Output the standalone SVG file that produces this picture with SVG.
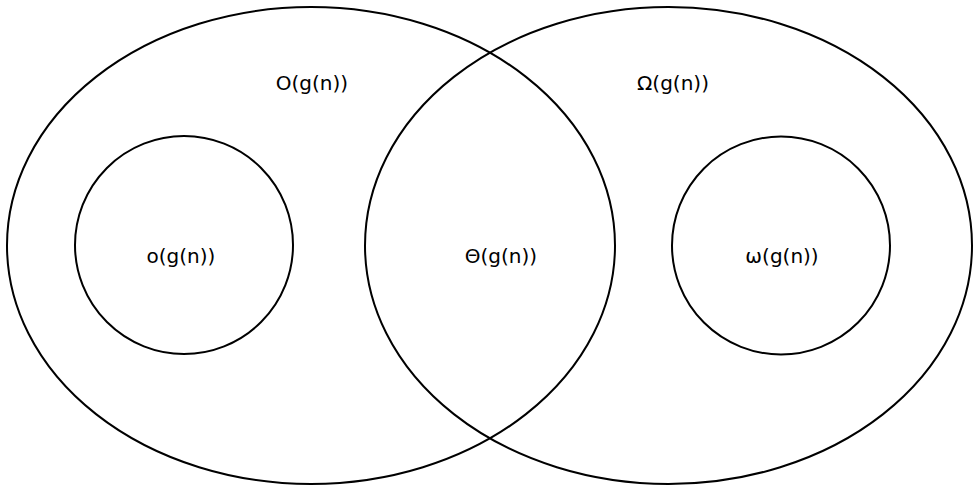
<svg xmlns="http://www.w3.org/2000/svg" width="976" height="486" viewBox="0 0 976 486">
<style>
.s{fill:none;stroke:#000;stroke-width:2}
text{font-family:"DejaVu Sans",sans-serif;font-size:20px;fill:#000;text-anchor:middle}
</style>
<rect width="976" height="486" fill="#fff"/>
<g id="O"><ellipse class="s" cx="311" cy="245.5" rx="304" ry="238.5"/><text x="312" y="90">O(g(n))</text></g>
<g id="Omega"><ellipse class="s" cx="668.5" cy="245.5" rx="303.5" ry="238.5"/><text x="673" y="90">Ω(g(n))</text></g>
<g id="o"><circle class="s" cx="184" cy="245" r="109"/><text x="181" y="263">o(g(n))</text></g>
<g id="Theta"><text x="501" y="263">Θ(g(n))</text></g>
<g id="w"><circle class="s" cx="781" cy="245.5" r="109"/><text x="782" y="263">ω(g(n))</text></g>
<g id="connectors"/>
</svg>
